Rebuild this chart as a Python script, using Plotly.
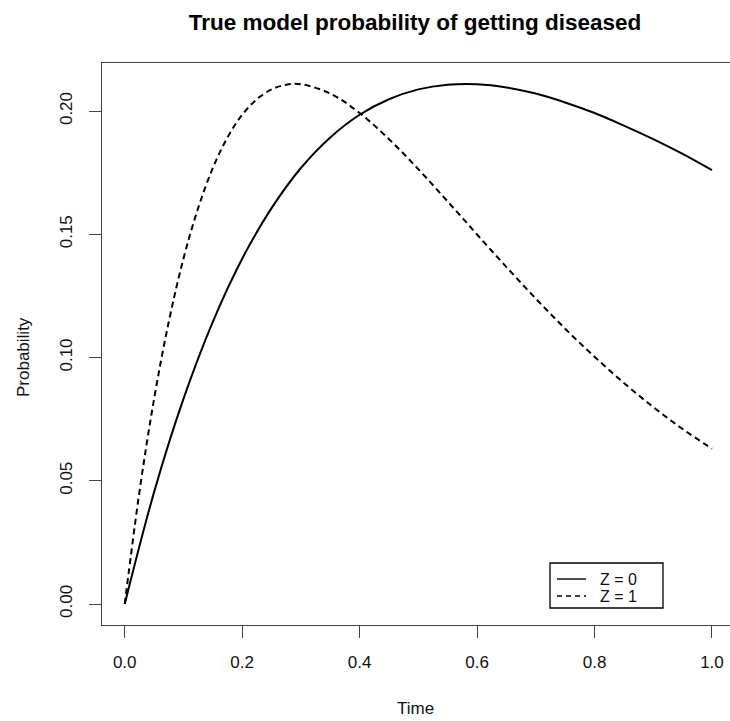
import plotly.graph_objects as go

# Data
time_z0 = [0.00, 0.05, 0.10, 0.15, 0.20, 0.25, 0.30, 0.35, 0.40, 0.45, 0.50,
           0.55, 0.60, 0.65, 0.70, 0.75, 0.80, 0.85, 0.90, 0.95, 1.00]
prob_z0 = [0.0000, 0.0454, 0.0832, 0.1145, 0.1401, 0.1606, 0.1769, 0.1893, 0.1985, 0.2048, 0.2088,
           0.2107, 0.2109, 0.2096, 0.2071, 0.2035, 0.1992, 0.1941, 0.1886, 0.1826, 0.1760]

time_z1 = [0.000, 0.025, 0.050, 0.075, 0.100, 0.125, 0.150, 0.175, 0.200, 0.225, 0.250,
           0.275, 0.300, 0.350, 0.400, 0.450, 0.500, 0.550, 0.600, 0.650, 0.700,
           0.750, 0.800, 0.850, 0.900, 0.950, 1.000]
prob_z1 = [0.0000, 0.0454, 0.0832, 0.1145, 0.1401, 0.1606, 0.1769, 0.1893, 0.1985, 0.2048, 0.2088,
           0.2107, 0.2109, 0.2071, 0.1992, 0.1886, 0.1764, 0.1633, 0.1499, 0.1367, 0.1239,
           0.1117, 0.1003, 0.0897, 0.0799, 0.0710, 0.0630]

series_names = ["Z = 0", "Z = 1"]
x_ticks = [0.0, 0.2, 0.4, 0.6, 0.8, 1.0]
y_ticks = [0.00, 0.05, 0.10, 0.15, 0.20]

title_text = "True model probability of getting diseased"
x_title = "Time"
y_title = "Probability"

FONT = "Liberation Sans, Arial, Helvetica, sans-serif"
AXIS_COLOR = "#444444"
TEXT_COLOR = "#111111"
DASH = "6px,4px"

W, H = 730, 721
L, R, T, B = 102, 0, 63, 96
pw = W - L - R
ph = H - T - B


def px(X):
    return (X - L) / pw


def py(Y):
    return (H - B - Y) / ph


fig = go.Figure()
fig.add_trace(go.Scatter(x=time_z0, y=prob_z0, mode="lines", name=series_names[0],
                         showlegend=False,
                         line=dict(color="black", width=2, shape="spline")))
fig.add_trace(go.Scatter(x=time_z1, y=prob_z1, mode="lines", name=series_names[1],
                         showlegend=False,
                         line=dict(color="black", width=2, dash=DASH, shape="spline")))

# legend drawn as a box like R's legend()
leg_left, leg_right, leg_top, leg_bottom = 550, 663, 563, 608
row_y = [579, 596]
seg_x0, seg_x1, text_x = 557, 586, 598
styles = ["solid", "5px,4px"]

shapes = [dict(type="rect", xref="paper", yref="paper",
               x0=px(leg_left), x1=px(leg_right), y0=py(leg_bottom), y1=py(leg_top),
               line=dict(color="black", width=1.3), fillcolor="white", layer="above")]
annotations = []
for name, yy, st in zip(series_names, row_y, styles):
    shapes.append(dict(type="line", xref="paper", yref="paper",
                       x0=px(seg_x0), x1=px(seg_x1), y0=py(yy), y1=py(yy),
                       line=dict(color="black", width=1.4, dash=st), layer="above"))
    annotations.append(dict(text=name, xref="paper", yref="paper", x=px(text_x), y=py(yy),
                            xanchor="left", yanchor="middle", showarrow=False,
                            font=dict(size=16, family=FONT, color=TEXT_COLOR)))

annotations += [
    dict(text=x_title, xref="paper", yref="paper", x=px(415), y=py(708),
         xanchor="center", yanchor="middle", showarrow=False,
         font=dict(size=17, family=FONT, color=TEXT_COLOR)),
    dict(text=y_title, xref="paper", yref="paper", x=px(23), y=py(357),
         xanchor="center", yanchor="middle", showarrow=False, textangle=-90,
         font=dict(size=17, family=FONT, color=TEXT_COLOR)),
]

fig.update_layout(
    width=W, height=H,
    margin=dict(l=L, r=R, t=T, b=B, pad=0),
    paper_bgcolor="white", plot_bgcolor="white",
    font=dict(family=FONT, color=TEXT_COLOR, size=17),
    title=dict(text="<b>" + title_text + "</b>", x=415 / W, xanchor="center",
               y=1 - 22 / H, yanchor="middle", yref="container",
               font=dict(size=22.5, family=FONT, color="black")),
    showlegend=False,
    xaxis=dict(range=[-0.0387, 1.0307], tickvals=x_ticks, tickformat=".1f",
               showgrid=False, zeroline=False, showline=True, mirror=True,
               linecolor=AXIS_COLOR, linewidth=1.3,
               ticks="outside", ticklen=12, tickwidth=1.3, tickcolor=AXIS_COLOR,
               ticklabelstandoff=9,
               tickfont=dict(size=17, family=FONT, color=TEXT_COLOR)),
    yaxis=dict(range=[-0.00852, 0.2195], tickvals=y_ticks, tickformat=".2f",
               showgrid=False, zeroline=False, showline=True, mirror=False,
               linecolor=AXIS_COLOR, linewidth=1.3,
               ticks="outside", ticklen=12, tickwidth=1.3, tickcolor=AXIS_COLOR,
               tickangle=-90, ticklabelstandoff=10,
               tickfont=dict(size=17, family=FONT, color=TEXT_COLOR)),
    shapes=shapes,
    annotations=annotations,
)

fig.write_html("out.html",
               config={"displayModeBar": False},
               post_script="document.body.style.margin='0';document.body.style.padding='0';"
                           "document.body.style.overflow='hidden';")
